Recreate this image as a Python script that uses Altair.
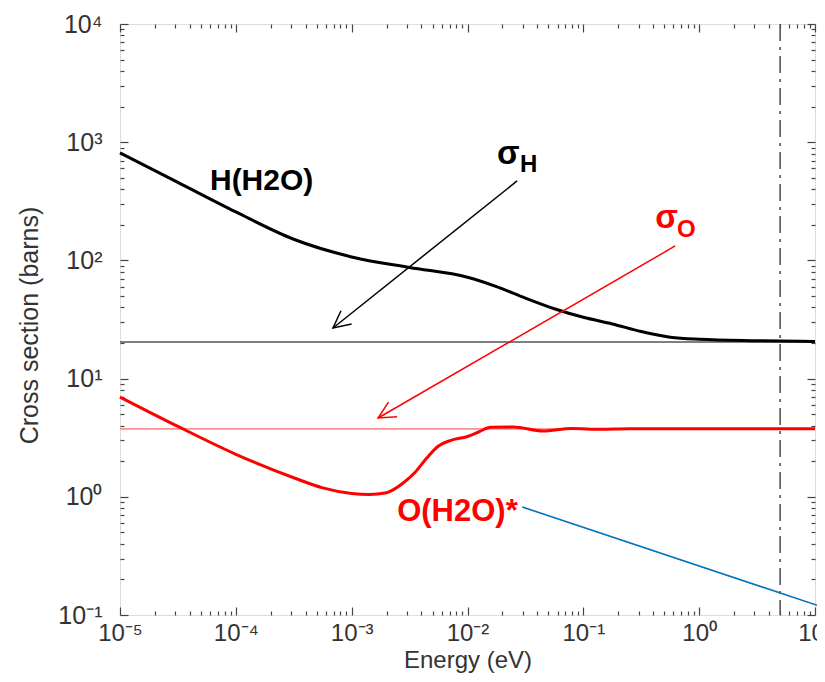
import math
import altair as alt
import pandas as pd

# ---------------- data ----------------
h_energy = [1e-5, 3.16e-5, 1e-4, 3.16e-4, 1e-3, 3.16e-3, 1e-2, 1.78e-2, 3.16e-2,
            5.62e-2, 0.1, 0.178, 0.316, 0.562, 1.0, 3.16, 10.0]
h_sigma = [811, 457, 257, 151, 107, 87, 72, 60, 48, 39, 33, 29, 25, 22.4, 21.5,
           20.9, 20.6]

o_energy = [1e-5, 3.16e-5, 1e-4, 3.16e-4, 5.62e-4, 1e-3, 1.41e-3, 2e-3, 2.82e-3,
            3.55e-3, 4.47e-3, 5.62e-3, 7.08e-3, 1e-2, 1.26e-2, 1.58e-2, 2.5e-2,
            4.47e-2, 7.94e-2, 0.141, 0.251, 1.0, 10.0]
o_sigma = [6.98, 3.94, 2.29, 1.45, 1.19, 1.067, 1.047, 1.084, 1.32, 1.62, 2.14, 2.69,
           2.99, 3.24, 3.55, 3.87, 3.89, 3.6, 3.78, 3.72, 3.76, 3.76, 3.76]

free_energy = [1e-5, 10.0]
sigma_h_free = 20.4
sigma_o_free = 3.75
cutoff_energy = 5.0

blue_energy = [0.0297, 12.25]
blue_sigma = [0.82, 0.1146]

arrow_h_energy = [0.0268, 6.9e-4]
arrow_h_sigma = [470, 26.8]
arrow_o_energy = [0.621, 1.69e-3]
arrow_o_sigma = [132.5, 4.64]

x_major = [1e-5, 1e-4, 1e-3, 1e-2, 1e-1, 1.0, 10.0]
x_labels = ["10⁻⁵", "10⁻⁴", "10⁻³", "10⁻²", "10⁻¹", "10⁰", "10¹"]
y_major = [0.1, 1.0, 10.0, 100.0, 1000.0, 10000.0]
y_labels = ["10⁻¹", "10⁰", "10¹", "10²", "10³", "10⁴"]
x_minor = [k * 10.0 ** d for d in range(-5, 1) for k in range(2, 10)]
y_minor = [k * 10.0 ** d for d in range(-1, 4) for k in range(2, 10)]

# ---------------- layout ----------------
W, H = 695, 591
FONT = "Liberation Sans"
XDOM = [1e-5, 10.0]
YDOM = [0.1, 1e4]
xs = alt.Scale(type="log", domain=XDOM, nice=False)
ys = alt.Scale(type="log", domain=YDOM, nice=False)


def label_expr(vals, labels):
    expr = f"'{labels[-1]}'"
    for v, l in reversed(list(zip(vals[:-1], labels[:-1]))):
        expr = f"datum.value < {v * 3:g} ? '{l}' : ({expr})"
    return expr


def head_angle(ex, sy):
    dx = (math.log10(ex[1]) - math.log10(ex[0])) * W / math.log10(XDOM[1] / XDOM[0])
    dy = -(math.log10(sy[1]) - math.log10(sy[0])) * H / math.log10(YDOM[1] / YDOM[0])
    return math.degrees(math.atan2(dy, dx)) % 360


TICK = dict(domain=False, grid=False, tickColor="#444", tickWidth=1.2)

ax_xb_major = alt.Axis(orient="bottom", values=x_major, offset=-8, tickSize=8,
                       labelExpr=label_expr(x_major, x_labels), labelFlush=False,
                       labelOverlap=False, labelPadding=6, labelFont=FONT,
                       labelFontSize=24, labelColor="#333",
                       title="Energy (eV)", titleFont=FONT, titleFontSize=24,
                       titleFontWeight="normal", titleColor="#333", titleY=60,
                       titleBaseline="alphabetic", **TICK)
ax_xb_minor = alt.Axis(orient="bottom", values=x_minor, offset=-4, tickSize=4,
                       labels=False, title=None, **TICK)
ax_xt_major = alt.Axis(orient="top", values=x_major, offset=-8, tickSize=8,
                       labels=False, title=None, **TICK)
ax_xt_minor = alt.Axis(orient="top", values=x_minor, offset=-4, tickSize=4,
                       labels=False, title=None, **TICK)

ax_yl_major = alt.Axis(orient="left", values=y_major, offset=-8, tickSize=8,
                       labelExpr=label_expr(y_major, y_labels), labelFlush=False,
                       labelOverlap=False, labelPadding=18, labelFont=FONT,
                       labelFontSize=25, labelColor="#333",
                       title="Cross section (barns)", titleFont=FONT, titleFontSize=25,
                       titleFontWeight="normal", titleColor="#333", titleX=-91,
                       titleY=301, titleAlign="center", titleBaseline="alphabetic",
                       titleAngle=270, **TICK)
ax_yl_minor = alt.Axis(orient="left", values=y_minor, offset=-4, tickSize=4,
                       labels=False, title=None, **TICK)
ax_yr_major = alt.Axis(orient="right", values=y_major, offset=-8, tickSize=8,
                       labels=False, title=None, **TICK)
ax_yr_minor = alt.Axis(orient="right", values=y_minor, offset=-4, tickSize=4,
                       labels=False, title=None, **TICK)

# ---------------- data frames ----------------
h_df = pd.DataFrame({"E": h_energy, "sigma": h_sigma})
o_df = pd.DataFrame({"E": o_energy, "sigma": o_sigma})
fh_df = pd.DataFrame({"E": free_energy, "sigma": [sigma_h_free] * 2})
fo_df = pd.DataFrame({"E": free_energy, "sigma": [sigma_o_free] * 2})
cut_df = pd.DataFrame({"E": [cutoff_energy]})
blue_df = pd.DataFrame({"E": blue_energy, "sigma": blue_sigma, "o": [0, 1]})
ah_df = pd.DataFrame({"E": arrow_h_energy, "sigma": arrow_h_sigma, "o": [0, 1]})
ao_df = pd.DataFrame({"E": arrow_o_energy, "sigma": arrow_o_sigma, "o": [0, 1]})


def enc(ax=None, ay=None):
    return dict(
        x=alt.X("E:Q", scale=xs, axis=ax),
        y=alt.Y("sigma:Q", scale=ys, axis=ay),
    )


free_h = alt.Chart(fh_df).mark_line(color="#555", strokeWidth=1.3).encode(
    **enc(ax_xb_major, ax_yl_major))
free_o = alt.Chart(fo_df).mark_line(color="#ff4040", strokeWidth=1).encode(
    **enc(ax_xb_minor, ax_yl_minor))
h_line = alt.Chart(h_df).mark_line(color="#000", strokeWidth=3, interpolate="monotone").encode(
    **enc(ax_xt_major, ax_yr_major))
o_line = alt.Chart(o_df).mark_line(color="#ff0000", strokeWidth=3, interpolate="monotone").encode(
    **enc(ax_xt_minor, ax_yr_minor))

cut = alt.Chart(cut_df).mark_rule(color="#555", strokeWidth=1.6,
                                  strokeDash=[17, 6, 3, 6]).encode(
    x=alt.X("E:Q", scale=xs, axis=None))

blue = alt.Chart(blue_df).mark_line(color="#0070C0", strokeWidth=1.6, clip=False).encode(
    order="o:Q", **enc(None, None))

HEAD = "M -1.7 -0.85 L 0 0 L -1.7 0.85"


def arrow(df, ex, sy, color):
    shaft = alt.Chart(df).mark_line(color=color, strokeWidth=1.5).encode(
        order="o:Q", **enc(None, None))
    head = alt.Chart(df.iloc[[1]]).mark_point(
        shape=HEAD, filled=False, size=400, strokeWidth=1.5, color=color,
        opacity=1, angle=head_angle(ex, sy)).encode(**enc(None, None))
    return shaft + head


arr_h = arrow(ah_df, arrow_h_energy, arrow_h_sigma, "#000")
arr_o = arrow(ao_df, arrow_o_energy, arrow_o_sigma, "#ff0000")


def label(text, e, s, color, size):
    df = pd.DataFrame({"E": [e], "sigma": [s], "t": [text]})
    return alt.Chart(df).mark_text(
        font=FONT, fontWeight="bold", fontSize=size, color=color,
        align="left", baseline="alphabetic").encode(text="t:N", **enc(None, None))


labels = (
    label("H(H2O)", 5.98e-5, 394, "#000", 30)
    + label("O(H2O)*", 2.47e-3, 0.624, "#ff0000", 31)
    + label("σ", 0.0180, 655, "#000", 33)
    + label("H", 0.0284, 560, "#000", 24)
    + label("σ", 0.417, 188, "#ff0000", 33)
    + label("O", 0.645, 158, "#ff0000", 24)
)

chart = alt.layer(
    free_h, free_o, h_line, o_line, cut, blue, arr_h, arr_o, labels
).resolve_axis(x="independent", y="independent").properties(
    width=W, height=H,
    autosize=alt.AutoSizeParams(type="none"),
    padding={"left": 112, "top": 16, "right": 2, "bottom": 59},
).configure_view(stroke="#666", strokeWidth=2).configure(background="white")

chart.save("out.html", embed_options={"renderer": "svg", "actions": False})
